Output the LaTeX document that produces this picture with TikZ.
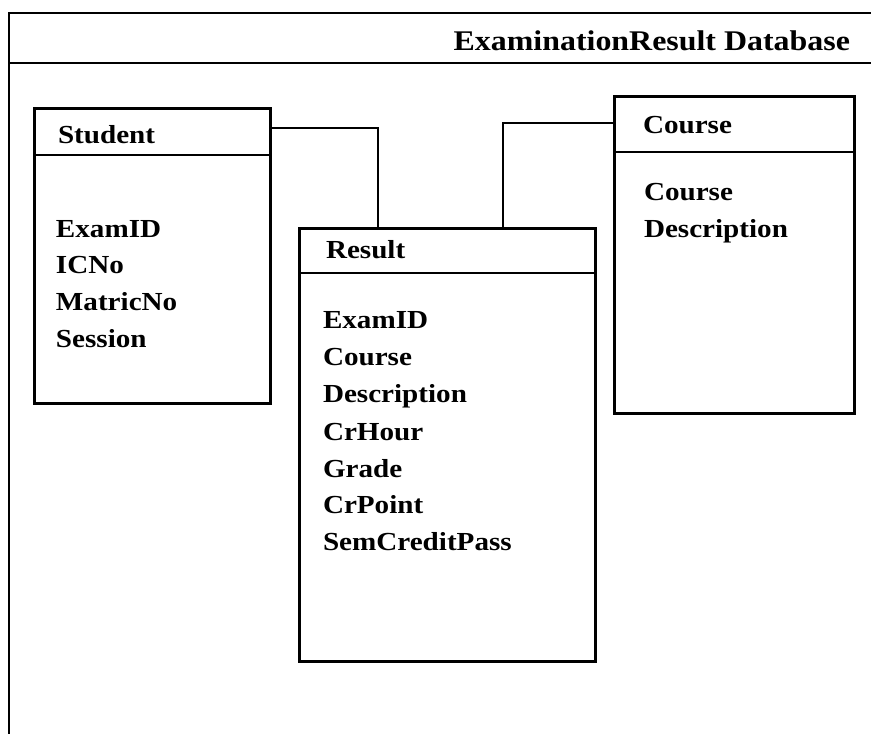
\documentclass[tikz,border=0pt]{standalone}
\usepackage{fontspec}
\setmainfont[FakeStretch=1.12]{Liberation Serif}
\begin{document}
\begin{tikzpicture}[x=1pt,y=-1pt,line width=2pt,
  entbox/.style={draw,rectangle,inner sep=0pt,anchor=north west,line width=2.6pt},
  divider/.style={line width=2.4pt},
  txt/.style={inner sep=0pt,anchor=base west,font=\fontsize{26}{30}\selectfont\bfseries},
  ttl/.style={inner sep=0pt,anchor=base east,font=\fontsize{28.5}{32}\selectfont\bfseries},
  link/.style={draw,line width=2.6pt}]
\useasboundingbox (0,0) rectangle (871,734);
% frame
\coordinate (ftr) at (871,13);
\coordinate (ftl) at (9,13);
\coordinate (fbl) at (9,734);
\coordinate (fml) at (9,63);
\coordinate (fmr) at (871,63);
\draw (ftr) -- (ftl) -- (fbl);
\draw (fml) -- (fmr);
\node[ttl] (title) at (851,50) {ExaminationResult Database};
% boxes
\node[entbox,minimum width=236pt,minimum height=295pt] (student) at (33,107) {};
\node[entbox,minimum width=296pt,minimum height=433pt] (result) at (298,227) {};
\node[entbox,minimum width=240pt,minimum height=317pt] (course) at (613,95) {};
\draw[divider] (student.west |- 0,155) -- (student.east |- 0,155);
\draw[divider] (result.west |- 0,273) -- (result.east |- 0,273);
\draw[divider] (course.west |- 0,152) -- (course.east |- 0,152);
% connectors
\draw[link] (student.east |- 0,128) -| (378,0 |- result.north);
\draw[link] (course.west |- 0,123) -| (503,0 |- result.north);
% texts
\node[txt] (sh) at (57,143) {Student};
\node[txt] (s1) at (55,237) {ExamID};
\node[txt] (s2) at (55,273) {ICNo};
\node[txt] (s3) at (55,310) {MatricNo};
\node[txt] (s4) at (55,347) {Session};
\node[txt] (rh) at (325,258) {Result};
\node[txt] (r1) at (322,328) {ExamID};
\node[txt] (r2) at (322,365) {Course};
\node[txt] (r3) at (322,402) {Description};
\node[txt] (r4) at (322,440) {CrHour};
\node[txt] (r5) at (322,477) {Grade};
\node[txt] (r6) at (322,513) {CrPoint};
\node[txt] (r7) at (322,550) {SemCreditPass};
\node[txt] (ch) at (642,133) {Course};
\node[txt] (c1) at (643,200) {Course};
\node[txt] (c2) at (643,237) {Description};
\end{tikzpicture}
\end{document}
